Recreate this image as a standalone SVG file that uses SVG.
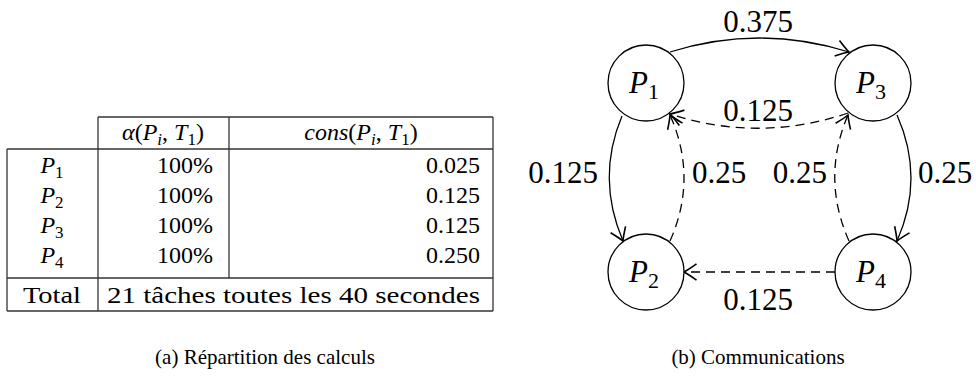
<svg xmlns="http://www.w3.org/2000/svg" width="976" height="379" viewBox="0 0 976 379">
<defs>
<marker id="ah" markerUnits="userSpaceOnUse" markerWidth="20" markerHeight="20" viewBox="-12 -8 14 16" refX="0" refY="0" orient="auto">
<path d="M-10,-6.5 Q-3,-1.5 0,0 Q-3,1.5 -10,6.5" fill="none" stroke="#000" stroke-width="1.3"/>
</marker>
</defs>
<rect width="976" height="379" fill="#fff"/>

<g id="table">
<g stroke="#333" stroke-width="1.3">
<line x1="98" y1="117" x2="493" y2="117"/>
<line x1="7" y1="149" x2="493" y2="149"/>
<line x1="7" y1="278" x2="493" y2="278"/>
<line x1="7" y1="311" x2="493" y2="311"/>
<line x1="7" y1="149" x2="7" y2="311"/>
<line x1="98" y1="117" x2="98" y2="311"/>
<line x1="229" y1="117" x2="229" y2="278"/>
<line x1="493" y1="117" x2="493" y2="311"/>
</g>
<text font-family="'Liberation Serif'" font-size="24" x="163" y="140" text-anchor="middle"><tspan font-style="italic">α</tspan>(<tspan font-style="italic">P</tspan><tspan font-style="italic" font-size="17" dy="5">i</tspan><tspan dy="-5">, </tspan><tspan font-style="italic">T</tspan><tspan font-size="17" dy="5">1</tspan><tspan dy="-5">)</tspan></text>
<text font-family="'Liberation Serif'" font-size="24" x="361" y="140" text-anchor="middle"><tspan font-style="italic">cons</tspan>(<tspan font-style="italic">P</tspan><tspan font-style="italic" font-size="17" dy="5">i</tspan><tspan dy="-5">, </tspan><tspan font-style="italic">T</tspan><tspan font-size="17" dy="5">1</tspan><tspan dy="-5">)</tspan></text>
<text font-family="'Liberation Serif'" font-size="24" x="52" y="173" text-anchor="middle"><tspan font-style="italic">P</tspan><tspan font-size="17" dy="5">1</tspan></text>
<text font-family="'Liberation Serif'" font-size="24" x="52" y="203" text-anchor="middle"><tspan font-style="italic">P</tspan><tspan font-size="17" dy="5">2</tspan></text>
<text font-family="'Liberation Serif'" font-size="24" x="52" y="233" text-anchor="middle"><tspan font-style="italic">P</tspan><tspan font-size="17" dy="5">3</tspan></text>
<text font-family="'Liberation Serif'" font-size="24" x="52" y="263" text-anchor="middle"><tspan font-style="italic">P</tspan><tspan font-size="17" dy="5">4</tspan></text>
<text font-family="'Liberation Serif'" font-size="24" x="213" y="173" text-anchor="end">100%</text>
<text font-family="'Liberation Serif'" font-size="24" x="213" y="203" text-anchor="end">100%</text>
<text font-family="'Liberation Serif'" font-size="24" x="213" y="233" text-anchor="end">100%</text>
<text font-family="'Liberation Serif'" font-size="24" x="213" y="263" text-anchor="end">100%</text>
<text font-family="'Liberation Serif'" font-size="24" x="480" y="173" text-anchor="end">0.025</text>
<text font-family="'Liberation Serif'" font-size="24" x="480" y="203" text-anchor="end">0.125</text>
<text font-family="'Liberation Serif'" font-size="24" x="480" y="233" text-anchor="end">0.125</text>
<text font-family="'Liberation Serif'" font-size="24" x="480" y="263" text-anchor="end">0.250</text>
<text font-family="'Liberation Serif'" font-size="24" x="52" y="303" text-anchor="middle" textLength="58" lengthAdjust="spacingAndGlyphs">Total</text>
<text font-family="'Liberation Serif'" font-size="24" x="107" y="303" textLength="373" lengthAdjust="spacingAndGlyphs">21 tâches toutes les 40 secondes</text>
</g>

<g id="connectors" fill="none" stroke="#000" stroke-width="1.3">
<path d="M670,52 Q759.5,24 849,52" marker-end="url(#ah)"/>
<path d="M848,113 Q759,143 670,114" stroke-dasharray="9 6" marker-end="url(#ah)"/>
<path d="M622,116 Q596,178 623,241" marker-end="url(#ah)"/>
<path d="M670,241 Q698,178 670,115" stroke-dasharray="9 6" marker-end="url(#ah)"/>
<path d="M849,241 Q821,178 848,115" stroke-dasharray="9 6" marker-end="url(#ah)"/>
<path d="M897,115 Q925,178 897,241" marker-end="url(#ah)"/>
<path d="M835,272 L684,272" stroke-dasharray="9 6" marker-end="url(#ah)"/>
</g>
<g id="edge-labels">
<text font-family="'Liberation Serif'" font-size="31" x="758" y="32" text-anchor="middle">0.375</text>
<text font-family="'Liberation Serif'" font-size="31" x="758" y="121" text-anchor="middle">0.125</text>
<text font-family="'Liberation Serif'" font-size="31" x="598" y="183" text-anchor="end">0.125</text>
<text font-family="'Liberation Serif'" font-size="31" x="692" y="183">0.25</text>
<text font-family="'Liberation Serif'" font-size="31" x="827" y="183" text-anchor="end">0.25</text>
<text font-family="'Liberation Serif'" font-size="31" x="918" y="183">0.25</text>
<text font-family="'Liberation Serif'" font-size="31" x="758" y="310" text-anchor="middle">0.125</text>
</g>

<g id="P1"><circle cx="646" cy="83" r="38" fill="#fff" stroke="#000" stroke-width="1.3"/><text font-family="'Liberation Serif'" font-size="31" x="644" y="93" text-anchor="middle"><tspan font-style="italic">P</tspan><tspan font-size="22" dy="6">1</tspan></text></g>
<g id="P3"><circle cx="873" cy="83" r="38" fill="#fff" stroke="#000" stroke-width="1.3"/><text font-family="'Liberation Serif'" font-size="31" x="871" y="93" text-anchor="middle"><tspan font-style="italic">P</tspan><tspan font-size="22" dy="6">3</tspan></text></g>
<g id="P2"><circle cx="646" cy="272" r="38" fill="#fff" stroke="#000" stroke-width="1.3"/><text font-family="'Liberation Serif'" font-size="31" x="644" y="282" text-anchor="middle"><tspan font-style="italic">P</tspan><tspan font-size="22" dy="6">2</tspan></text></g>
<g id="P4"><circle cx="873" cy="272" r="38" fill="#fff" stroke="#000" stroke-width="1.3"/><text font-family="'Liberation Serif'" font-size="31" x="871" y="282" text-anchor="middle"><tspan font-style="italic">P</tspan><tspan font-size="22" dy="6">4</tspan></text></g>

<g id="captions">
<text font-family="'Liberation Serif'" font-size="21" x="265" y="364" text-anchor="middle">(a) Répartition des calculs</text>
<text font-family="'Liberation Serif'" font-size="21" x="758" y="364" text-anchor="middle">(b) Communications</text>
</g>
</svg>
